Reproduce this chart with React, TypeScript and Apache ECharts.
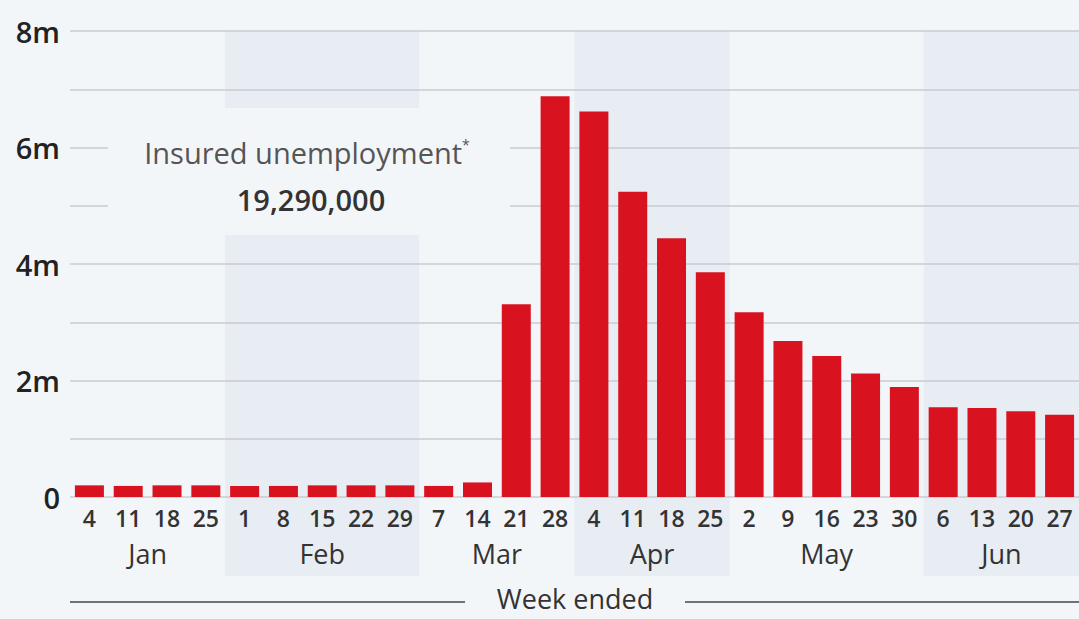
import React, { useEffect, useRef } from "react";
import * as echarts from "echarts";

const days = ["4", "11", "18", "25", "1", "8", "15", "22", "29", "7", "14", "21", "28", "4", "11", "18", "25", "2", "9", "16", "23", "30", "6", "13", "20", "27"];
const weekMonth = ["Jan", "Jan", "Jan", "Jan", "Feb", "Feb", "Feb", "Feb", "Feb", "Mar", "Mar", "Mar", "Mar", "Apr", "Apr", "Apr", "Apr", "May", "May", "May", "May", "May", "Jun", "Jun", "Jun", "Jun"];
const claims = [0.2, 0.19, 0.2, 0.2, 0.19, 0.19, 0.2, 0.2, 0.2, 0.19, 0.25, 3.31, 6.88, 6.62, 5.24, 4.44, 3.86, 3.17, 2.68, 2.42, 2.12, 1.89, 1.54, 1.53, 1.47, 1.41].map((v) => v * 1e6);

const months = ["Jan", "Feb", "Mar", "Apr", "May", "Jun"];
const monthStart = [0, 4, 9, 13, 17, 22];
const monthEnd = [3, 8, 12, 16, 21, 25];
const monthShaded = [0, 1, 0, 1, 0, 1];

const yTickLabels = ["0", "", "2m", "", "4m", "", "6m", "", "8m"];
const yMax = 8e6;
const yInterval = 1e6;

const annotationTitle = "Insured unemployment";
const annotationValue = "19,290,000";
const axisTitle = "Week ended";

const FONT = "'Open Sans', 'Noto Sans', sans-serif";
const BG = "#f3f6f9";
const BAND = "#e8ecf3";
const RED = "#d9121f";

export default function App() {
  const ref = useRef<HTMLDivElement>(null);

  useEffect(() => {
    if (!ref.current) return;
    const chart = echarts.init(ref.current, undefined, { renderer: "svg" });
    const categories = days.map((d, i) => `${weekMonth[i]} ${d}`);
    const bandData = months.map((_, i) => [monthStart[i], monthEnd[i], monthShaded[i]]);

    chart.setOption({
      animation: false,
      backgroundColor: BG,
      grid: { left: 70, right: -2, top: 31, bottom: 122, containLabel: false },
      xAxis: {
        type: "category",
        data: categories,
        axisLine: { show: false },
        axisTick: { show: false },
        axisLabel: {
          formatter: (v: string) => v.split(" ")[1],
          fontFamily: FONT,
          fontSize: 23,
          fontWeight: 600,
          color: "#333",
          margin: 9,
          interval: 0,
        },
      },
      yAxis: {
        type: "value",
        min: 0,
        max: yMax,
        interval: yInterval,
        axisLine: { show: false },
        axisTick: { show: false },
        splitLine: { show: true, lineStyle: { color: "#c9ccd2", width: 1.5 } },
        axisLabel: {
          formatter: (_v: number, idx: number) => yTickLabels[idx] ?? "",
          fontFamily: FONT,
          fontSize: 29,
          fontWeight: 600,
          color: "#222",
          margin: 10,
        },
      },
      series: [
        {
          type: "custom",
          silent: true,
          clip: false,
          z: -1,
          encode: { x: [0, 1], y: 2 },
          data: bandData,
          renderItem: (params: any, api: any) => {
            const i = params.dataIndex;
            const s = api.value(0);
            const e = api.value(1);
            const w = api.size([1, 0])[0];
            const x0 = api.coord([s, 0])[0] - w / 2;
            const x1 = api.coord([e, 0])[0] + w / 2;
            const yTop = api.coord([0, yMax])[1];
            const children: any[] = [];
            if (api.value(2)) {
              children.push({
                type: "rect",
                shape: { x: x0, y: yTop, width: x1 - x0, height: 576 - yTop },
                style: { fill: BAND },
              });
            }
            children.push({
              type: "text",
              style: {
                text: months[i],
                x: (x0 + x1) / 2,
                y: 553,
                align: "center",
                verticalAlign: "middle",
                fontSize: 27,
                fontFamily: FONT,
                fill: "#333",
              },
            });
            return { type: "group", children };
          },
        },
        {
          type: "bar",
          data: claims,
          barWidth: 29,
          itemStyle: { color: RED },
          z: 3,
        },
      ],
      graphic: [
        {
          type: "rect",
          z: 10,
          shape: { x: 108, y: 108, width: 402, height: 127 },
          style: { fill: BG },
        },
        {
          type: "text",
          z: 11,
          x: 307,
          y: 152,
          style: {
            text: `{a|${annotationTitle}}{s|*}`,
            align: "center",
            verticalAlign: "middle",
            rich: {
              a: { fontFamily: FONT, fontSize: 29, fill: "#555" },
              s: { fontFamily: FONT, fontSize: 14, fill: "#555", padding: [0, 0, 16, 0] },
            },
          },
        },
        {
          type: "text",
          z: 11,
          x: 311,
          y: 199,
          style: {
            text: annotationValue,
            align: "center",
            verticalAlign: "middle",
            fontFamily: FONT,
            fontSize: 29,
            fontWeight: 600,
            fill: "#333",
          },
        },
        {
          type: "line",
          z: 11,
          shape: { x1: 70, y1: 602, x2: 465, y2: 602 },
          style: { stroke: "#444", lineWidth: 1.5 },
        },
        {
          type: "line",
          z: 11,
          shape: { x1: 685, y1: 602, x2: 1079, y2: 602 },
          style: { stroke: "#444", lineWidth: 1.5 },
        },
        {
          type: "text",
          z: 11,
          x: 575,
          y: 598,
          style: {
            text: axisTitle,
            align: "center",
            verticalAlign: "middle",
            fontFamily: FONT,
            fontSize: 27,
            lineHeight: 30,
            fill: "#333",
          },
        },
      ],
    });

    return () => chart.dispose();
  }, []);

  return (
    <div
      ref={ref}
      style={{ position: "absolute", left: 0, top: 0, width: 1079, height: 619 }}
    />
  );
}
